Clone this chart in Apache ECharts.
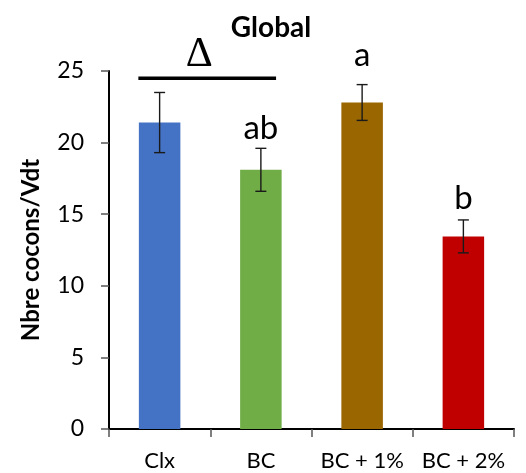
<!DOCTYPE html>
<html>
<head>
<meta charset="utf-8">
<script src="https://cdn.jsdelivr.net/npm/echarts@6/dist/echarts.min.js"></script>
<style>
  html, body { margin: 0; padding: 0; background: #fff; }
  #chart { width: 526px; height: 473px; }
</style>
</head>
<body>
<div id="chart"></div>
<script>
// Treatments and mean cocoon counts per worm
const categories = ['Clx', 'BC', 'BC + 1%', 'BC + 2%'];
const means = [21.4, 18.1, 22.8, 13.45];
// Standard error half-widths
const errors = [2.1, 1.5, 1.25, 1.15];
// Significance letters and the value at which each one sits
const letters = ['', 'ab', 'a', 'b'];
const letterAt = [0, 20.2, 25.3, 15.3];
// Bracket spanning the first two treatments, with its symbol
const bracketFrom = 0, bracketTo = 1, bracketValue = 24.5, bracketSymbol = '\u0394';
const yTicks = { min: 0, max: 25, interval: 5 };

const colors = ['#4472C4', '#70AD47', '#996600', '#C00000'];

const chart = echarts.init(document.getElementById('chart'), null, { renderer: 'canvas' });

const errData = categories.map((c, i) => [i, means[i] - errors[i], means[i] + errors[i]]);
const letterData = categories.map((c, i) => [i, letterAt[i], letters[i]]).filter(d => d[2]);

chart.setOption({
  animation: false,
  title: {
    text: 'Global',
    left: 266,
    textAlign: 'center',
    top: 9,
    textStyle: { fontFamily: 'Lato', fontWeight: 'bold', fontSize: 28, color: '#000' }
  },
  grid: { left: 109, right: 12, top: 71, bottom: 44 },
  xAxis: {
    type: 'category',
    data: categories,
    axisLine: { lineStyle: { color: '#000', width: 2 } },
    axisTick: { show: true, length: 8, lineStyle: { color: '#555', width: 1.5 } },
    axisLabel: { interval: 0, color: '#000', fontFamily: 'Lato', fontSize: 22, margin: 21 }
  },
  yAxis: {
    type: 'value',
    min: yTicks.min, max: yTicks.max, interval: yTicks.interval,
    name: 'Nbre cocons/Vdt',
    nameLocation: 'middle',
    nameRotate: 90,
    nameGap: 66,
    nameTextStyle: { fontFamily: 'Lato', fontWeight: 'bold', fontSize: 24, color: '#000' },
    axisLine: { show: true, lineStyle: { color: '#000', width: 2 } },
    axisTick: { show: true, length: 8, lineStyle: { color: '#555', width: 1.5 } },
    splitLine: { show: false },
    axisLabel: { color: '#000', fontFamily: 'Lato', fontSize: 23, margin: 25 }
  },
  series: [
    {
      type: 'bar',
      barWidth: '41%',
      data: means.map((v, i) => ({ value: v, itemStyle: { color: colors[i] } })),
      z: 2
    },
    {
      // error bars with caps
      type: 'custom',
      data: errData,
      z: 3,
      renderItem: function (params, api) {
        const lo = api.coord([api.value(0), api.value(1)]);
        const hi = api.coord([api.value(0), api.value(2)]);
        const cap = 5.5;
        const style = { stroke: '#1a1a1a', lineWidth: 1.4 };
        return {
          type: 'group',
          children: [
            { type: 'line', shape: { x1: lo[0], y1: lo[1], x2: hi[0], y2: hi[1] }, style },
            { type: 'line', shape: { x1: lo[0] - cap, y1: lo[1], x2: lo[0] + cap, y2: lo[1] }, style },
            { type: 'line', shape: { x1: hi[0] - cap, y1: hi[1], x2: hi[0] + cap, y2: hi[1] }, style }
          ]
        };
      }
    },
    {
      // significance letters
      type: 'custom',
      data: letterData,
      z: 4,
      renderItem: function (params, api) {
        const p = api.coord([api.value(0), api.value(1)]);
        return {
          type: 'text',
          style: {
            x: p[0], y: p[1] + 5, text: letterData[params.dataIndex][2],
            fill: '#000', font: '33px Lato', align: 'center', verticalAlign: 'bottom'
          }
        };
      }
    },
    {
      // bracket over the first two treatments
      type: 'custom',
      data: [[bracketFrom, bracketTo, bracketValue]],
      z: 4,
      renderItem: function (params, api) {
        const a = api.coord([api.value(0), api.value(2)]);
        const b = api.coord([api.value(1), api.value(2)]);
        const band = api.size([1, 0])[0];
        const x1 = a[0] - band * 0.21;
        const x2 = b[0] + band * 0.15;
        return {
          type: 'group',
          children: [
            { type: 'line', shape: { x1: x1, y1: a[1], x2: x2, y2: b[1] }, style: { stroke: '#000', lineWidth: 3.5 } },
            {
              type: 'text',
              style: {
                x: (x1 + x2) / 2 - 8, y: a[1] - 2, text: bracketSymbol,
                fill: '#000', font: '42px "Liberation Serif"', align: 'center', verticalAlign: 'bottom'
              }
            }
          ]
        };
      }
    }
  ]
});
</script>
</body>
</html>
